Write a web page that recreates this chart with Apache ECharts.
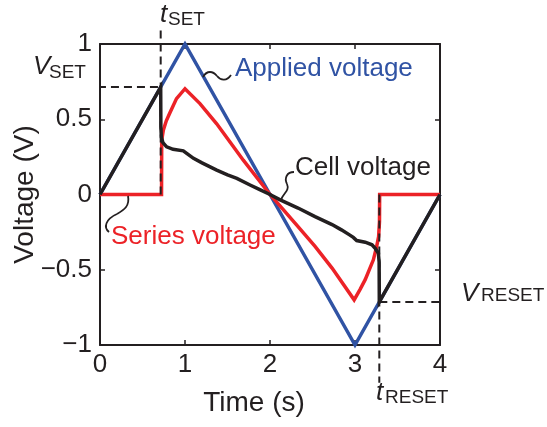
<!DOCTYPE html>
<html>
<head>
<meta charset="utf-8">
<script src="https://cdn.jsdelivr.net/npm/echarts@6/dist/echarts.min.js"></script>
<style>
  html, body { margin: 0; padding: 0; background: #fff; }
  #chart { width: 547px; height: 427px; }
</style>
</head>
<body>
<div id="chart"></div>
<script>
// Axis ticks
const xTicks = [0, 1, 2, 3, 4];
const yTicks = [-1, -0.5, 0, 0.5, 1];

// Applied triangular voltage sweep
const appliedTime = [0, 1, 3, 4];
const appliedVolt = [0, 1, -1, 0];

// Voltage across the cell
const cellTime = [0, 0.714, 0.716, 0.722, 0.74, 0.784, 0.86, 0.98, 1.04, 1.1, 1.2, 1.373, 1.5, 1.61, 1.765, 1.88, 2.0,
                  2.12, 2.33, 2.53, 2.73, 2.84, 2.94, 2.98, 3.02, 3.12, 3.2, 3.24, 3.275, 3.284, 3.286, 4];
const cellVolt = [0, 0.714, 0.45, 0.38, 0.345, 0.317, 0.30, 0.29, 0.265, 0.24, 0.21, 0.162, 0.13, 0.107, 0.063, 0.032, 0.0,
                  -0.036, -0.09, -0.147, -0.2, -0.235, -0.27, -0.285, -0.306, -0.317, -0.334, -0.36, -0.39, -0.45, -0.714, 0];

// Voltage across the series resistor
const seriesTime = [0, 0.724, 0.726, 0.745, 0.78, 0.82, 0.9, 1.0, 1.176, 1.373, 1.686, 2.0,
                    2.33, 2.53, 2.73, 2.99, 3.06, 3.12, 3.216, 3.255, 3.278, 3.288, 3.29, 4];
const seriesVolt = [0, 0, 0.36, 0.427, 0.49, 0.54, 0.637, 0.703, 0.604, 0.47, 0.228, 0,
                    -0.213, -0.345, -0.489, -0.70, -0.63, -0.566, -0.434, -0.345, -0.28, -0.18, 0, 0];

// Switching points
const tSet = 0.714, vSet = 0.714;
const tReset = 3.286, vReset = -0.714;

const FONT = '"Liberation Sans", Arial, Helvetica, sans-serif';
const BLUE = '#3053a4', RED = '#ec2227', INK = '#231f20';

const pairs = (xs, ys) => xs.map((x, i) => [x, ys[i]]);
const minusFmt = v => (v < 0 ? '\u2212' + Math.abs(v) : String(v));

const xMin = xTicks[0], xMax = xTicks[xTicks.length - 1];
const yMin = yTicks[0], yMax = yTicks[yTicks.length - 1];

const axisLine = { show: true, onZero: false, lineStyle: { color: INK, width: 2 } };
const axisTick = { show: true, inside: true, length: 5, lineStyle: { color: INK, width: 1.5 } };

function curve(name, data, color, z) {
  return {
    name, type: 'line', data, symbol: 'none', clip: false, z,
    lineStyle: { color, width: 3.5, join: 'miter' },
    animation: false
  };
}
function guide(data) {
  return {
    type: 'line', data, symbol: 'none', clip: false, z: 10,
    lineStyle: { color: INK, width: 2, type: [8, 5] },
    animation: false
  };
}
function txt(x, y, text, size, color, italic) {
  return {
    type: 'text', x, y, z: 20,
    style: {
      text, fill: color, align: 'left', verticalAlign: 'middle',
      font: (italic ? 'italic ' : '') + size + 'px ' + FONT
    }
  };
}
function squiggle(segs) {
  return segs.map(s => ({
    type: 'bezierCurve', z: 20,
    shape: { x1: s[0], y1: s[1], cpx1: s[2], cpy1: s[3], cpx2: s[4], cpy2: s[5], x2: s[6], y2: s[7] },
    style: { stroke: INK, lineWidth: 1.8, fill: null }
  }));
}

const chart = echarts.init(document.getElementById('chart'), null, { renderer: 'canvas' });

chart.setOption({
  backgroundColor: '#ffffff',
  animation: false,
  grid: { left: 100, right: 107, top: 44, bottom: 82, containLabel: false, outerBoundsMode: 'none' },
  xAxis: [
    {
      type: 'value', position: 'bottom', min: xMin, max: xMax, interval: 1,
      axisLine, axisTick, splitLine: { show: false },
      axisLabel: { margin: 7, fontSize: 26, color: INK, fontFamily: FONT, formatter: minusFmt },
      name: 'Time (s)', nameLocation: 'middle', nameGap: 44, nameMoveOverlap: false,
      nameTextStyle: { fontSize: 28, color: INK, fontFamily: FONT, padding: [0, 32, 0, 0] }
    },
    {
      type: 'value', position: 'top', min: xMin, max: xMax, interval: 1,
      axisLine, axisTick, splitLine: { show: false }, axisLabel: { show: false }
    }
  ],
  yAxis: [
    {
      type: 'value', position: 'left', min: yMin, max: yMax, interval: 0.5,
      axisLine, axisTick, splitLine: { show: false },
      axisLabel: { margin: 8, fontSize: 26, color: INK, fontFamily: FONT, formatter: minusFmt },
      name: 'Voltage (V)', nameLocation: 'middle', nameGap: 61, nameMoveOverlap: false,
      nameTextStyle: { fontSize: 28, color: INK, fontFamily: FONT }
    },
    {
      type: 'value', position: 'right', min: yMin, max: yMax, interval: 0.5,
      axisLine, axisTick, splitLine: { show: false }, axisLabel: { show: false }
    }
  ],
  series: [
    curve('Applied voltage', pairs(appliedTime, appliedVolt), BLUE, 2),
    curve('Series voltage', pairs(seriesTime, seriesVolt), RED, 3),
    curve('Cell voltage', pairs(cellTime, cellVolt), INK, 4),
    // SET / RESET guide lines, running out past the frame to their labels
    guide([[tSet, 0], [tSet, yMax + 0.12]]),
    guide([[xMin - 0.33, vSet], [tSet, vSet]]),
    guide([[tReset, 0], [tReset, yMin - 0.25]]),
    guide([[tReset, vReset], [xMax + 0.35, vReset]])
  ],
  graphic: [
    txt(235, 69, 'Applied voltage', 26, BLUE),
    txt(295, 168, 'Cell voltage', 26, INK),
    txt(111, 237, 'Series voltage', 26, RED),
    txt(160, 15, 't', 26, INK, true),
    txt(168, 20, 'SET', 19, INK),
    txt(33, 67, 'V', 26, INK, true),
    txt(49, 73, 'SET', 19, INK),
    txt(461, 294, 'V', 26, INK, true),
    txt(481, 296, 'RESET', 19, INK),
    txt(376, 393, 't', 26, INK, true),
    txt(385, 398, 'RESET', 19, INK),
    ...squiggle([[203, 77, 207, 70, 213, 71, 217, 76], [217, 76, 221, 81, 227, 81, 231, 75]]),
    ...squiggle([[294, 172, 287, 172, 284, 178, 287, 184], [287, 184, 290, 191, 283, 193, 281, 200]]),
    ...squiggle([[128, 196, 130, 206, 124, 210, 117, 214], [117, 214, 106, 219, 103, 227, 109, 232]])
  ]
});
</script>
</body>
</html>
